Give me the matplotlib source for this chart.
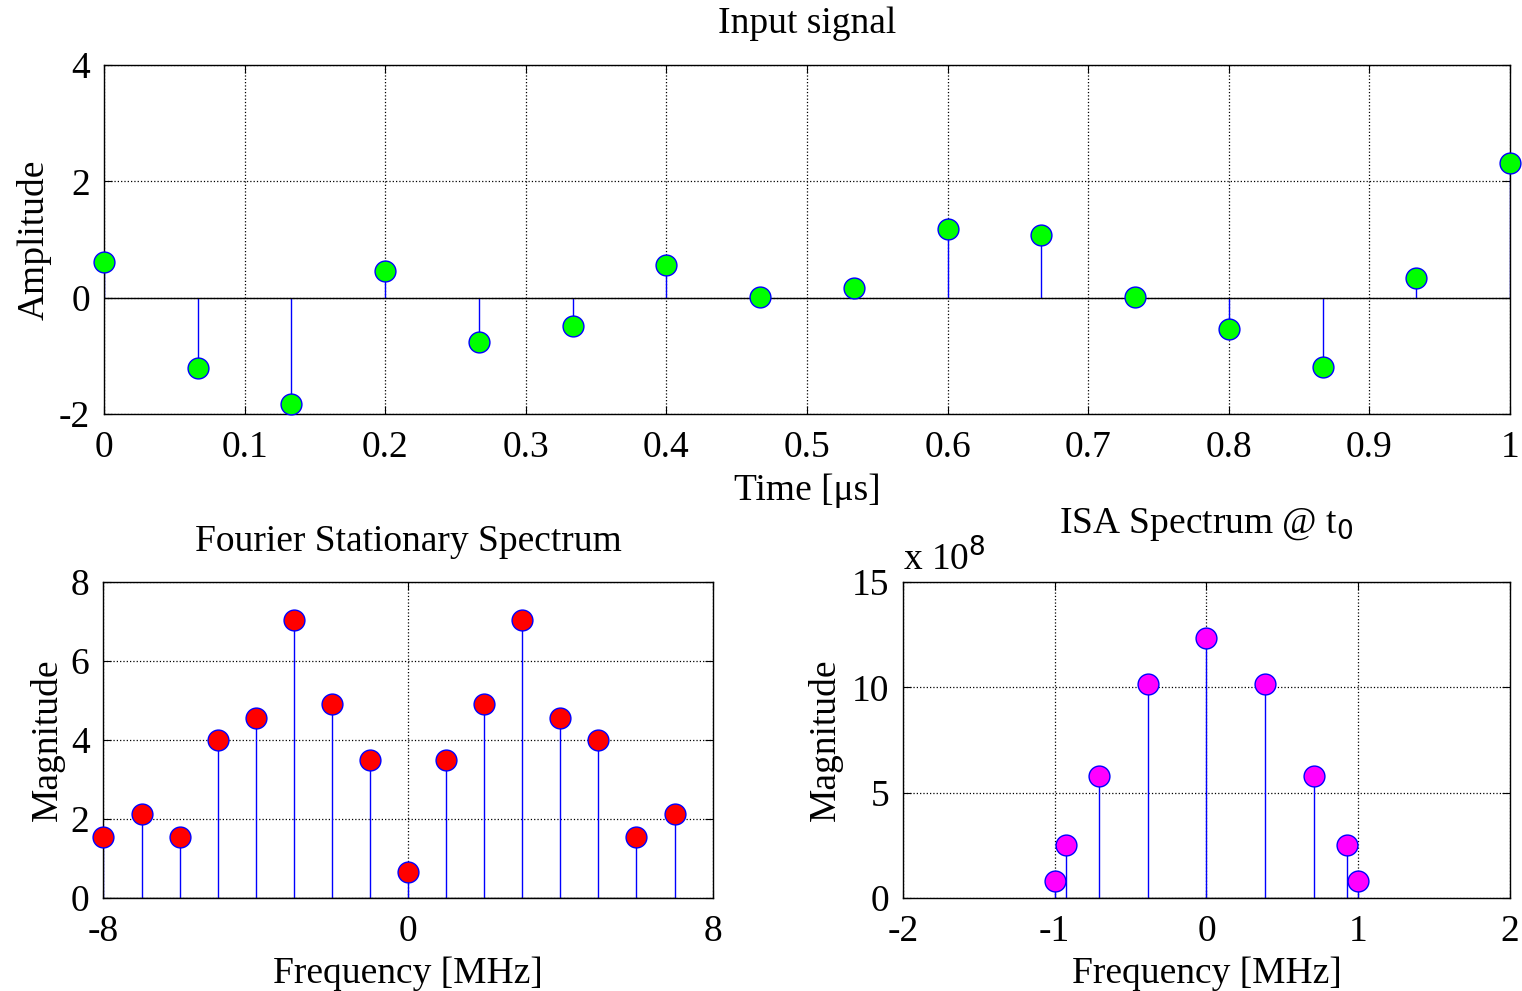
import matplotlib
matplotlib.use("Agg")
import matplotlib.pyplot as plt
import matplotlib as mpl

mpl.rcParams.update({
    "font.family": ["Liberation Serif", "DejaVu Serif"],
    "font.size": 27,
    "axes.titlesize": 27,
    "axes.unicode_minus": False,
    "axes.linewidth": 1.0,
    "xtick.direction": "in",
    "ytick.direction": "in",
    "xtick.top": True,
    "ytick.right": True,
    "xtick.major.size": 6,
    "ytick.major.size": 6,
    "xtick.major.pad": 12,
    "ytick.major.pad": 10,
    "grid.color": "black",
    "grid.linestyle": ":",
    "grid.linewidth": 0.9,
})

# input signal (time in us)
t_us = [0, 0.0667, 0.1333, 0.2, 0.2667, 0.3333, 0.4, 0.4667,
        0.5333, 0.6, 0.6667, 0.7333, 0.8, 0.8667, 0.9333, 1.0]
amp = [0.61, -1.21, -1.83, 0.46, -0.77, -0.49, 0.57, 0.02,
       0.17, 1.18, 1.07, 0.02, -0.53, -1.19, 0.33, 2.32]

# Fourier spectrum
f_mhz = [-8, -7, -6, -5, -4, -3, -2, -1, 0, 1, 2, 3, 4, 5, 6, 7]
fourier_mag = [1.54, 2.13, 1.54, 4.0, 4.55, 7.05, 4.91, 3.49,
               0.65, 3.49, 4.91, 7.05, 4.55, 4.0, 1.54, 2.13]

# ISA spectrum (magnitude in units of 1e8)
isa_f = [-1.0, -0.924, -0.707, -0.383, 0.0, 0.383, 0.707, 0.924, 1.0]
isa_mag = [0.79, 2.53, 5.81, 10.14, 12.32, 10.14, 5.81, 2.53, 0.79]


def stem_plot(ax, x, y, face):
    markers, stems, base = ax.stem(x, y, linefmt="b-", markerfmt="o", basefmt="k-")
    markers.set_markerfacecolor(face)
    markers.set_markeredgecolor("blue")
    markers.set_markersize(15)
    markers.set_markeredgewidth(1.0)
    markers.set_clip_on(False)
    markers.set_zorder(5)
    stems.set_linewidth(1.0)
    base.set_linewidth(1.0)
    base.set_color("black")


fig = plt.figure(figsize=(15.22, 9.91), dpi=100)

ax1 = fig.add_axes([0.0683, 0.5822, 0.9238, 0.3522])
stem_plot(ax1, t_us, amp, (0, 1, 0))
ax1.set_xlim(0, 1)
ax1.set_ylim(-2, 4)
ax1.set_xticks([0, 0.1, 0.2, 0.3, 0.4, 0.5, 0.6, 0.7, 0.8, 0.9, 1])
ax1.set_xticklabels(["0", "0.1", "0.2", "0.3", "0.4", "0.5", "0.6", "0.7", "0.8", "0.9", "1"])
ax1.set_yticks([-2, 0, 2, 4])
ax1.grid(True)
ax1.set_title("Input signal", pad=23)
ax1.set_xlabel("Time [\u03bcs]", labelpad=6)
ax1.set_ylabel("Amplitude", labelpad=5)

ax2 = fig.add_axes([0.068, 0.0938, 0.4002, 0.3189])
stem_plot(ax2, f_mhz, fourier_mag, (1, 0, 0))
ax2.set_xlim(-8, 8)
ax2.set_ylim(0, 8)
ax2.set_xticks([-8, 0, 8])
ax2.set_yticks([0, 2, 4, 6, 8])
ax2.grid(True)
ax2.set_title("Fourier Stationary Spectrum", pad=22)
ax2.set_xlabel("Frequency [MHz]", labelpad=5)
ax2.set_ylabel("Magnitude", labelpad=4)

ax3 = fig.add_axes([0.5933, 0.0938, 0.3988, 0.3189])
stem_plot(ax3, isa_f, isa_mag, (1, 0, 1))
ax3.set_xlim(-2, 2)
ax3.set_ylim(0, 15)
ax3.set_xticks([-2, -1, 0, 1, 2])
ax3.set_yticks([0, 5, 10, 15])
ax3.grid(True)
ax3.set_title("ISA Spectrum @ t$_0$", pad=35)
ax3.set_xlabel("Frequency [MHz]", labelpad=5)
ax3.set_ylabel("Magnitude", labelpad=6)
ax3.text(0.0, 1.01, "x 10$^8$", transform=ax3.transAxes, ha="left", va="bottom")

fig.savefig("out.png", dpi=100)
